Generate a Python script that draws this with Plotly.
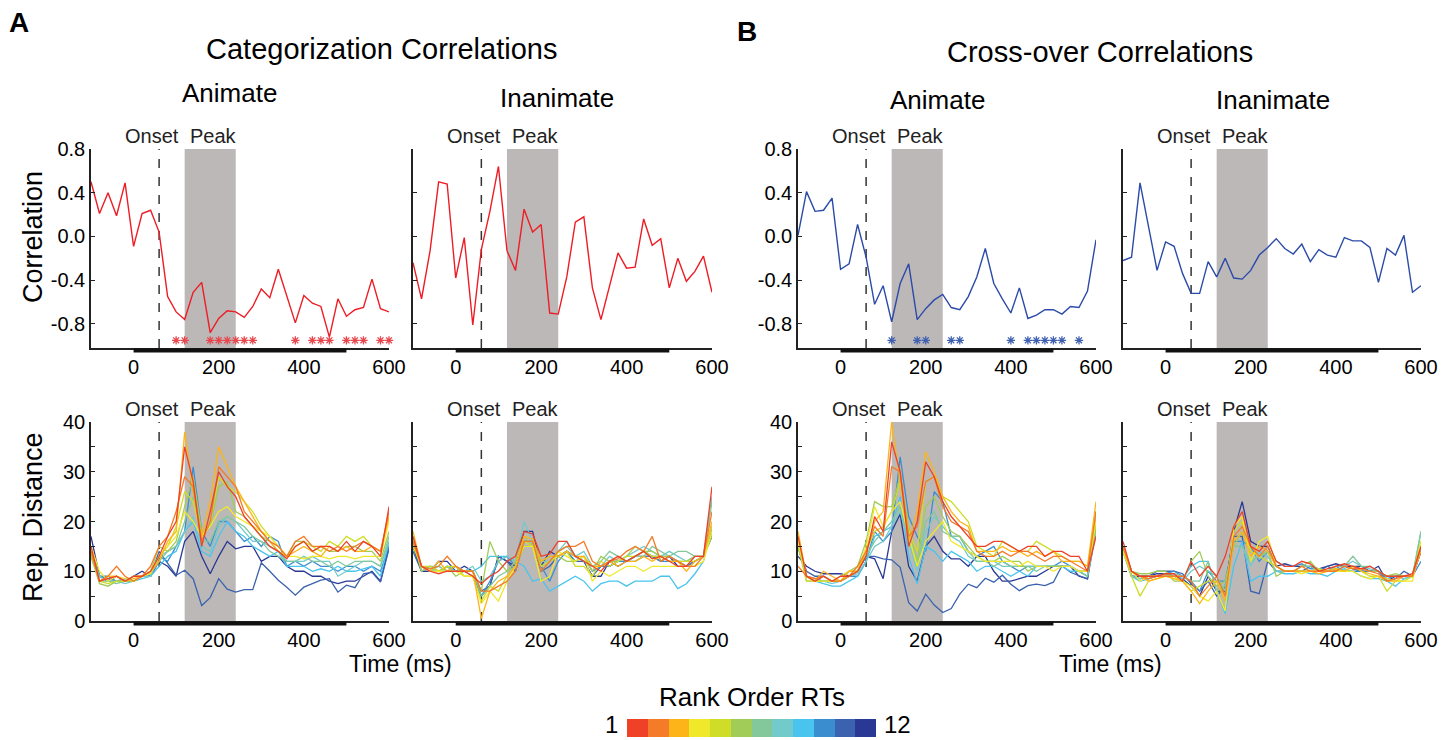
import plotly.graph_objects as go

# ---------------- data ----------------
time_ms = list(range(-100, 601, 20))

cat_anim_corr = [0.50, 0.21, 0.40, 0.19, 0.49, -0.09, 0.21, 0.24, 0.04, -0.55, -0.69, -0.76, -0.51, -0.42, -0.88, -0.75, -0.68, -0.69,
                 -0.74, -0.64, -0.48, -0.56, -0.30, -0.54, -0.79, -0.54, -0.61, -0.64, -0.92, -0.57, -0.73, -0.67, -0.65, -0.39, -0.66, -0.69]
cat_inan_corr = [-0.24, -0.57, -0.13, 0.50, 0.48, -0.38, -0.01, -0.81, -0.12, 0.23, 0.64, -0.13, -0.31, 0.25, 0.04, 0.11, -0.70, -0.71,
                 -0.37, 0.13, 0.18, -0.47, -0.76, -0.46, -0.15, -0.29, -0.28, 0.16, -0.08, -0.02, -0.47, -0.20, -0.41, -0.32, -0.18, -0.51]
cross_anim_corr = [0.01, 0.41, 0.23, 0.24, 0.35, -0.30, -0.25, 0.11, -0.19, -0.62, -0.45, -0.78, -0.43, -0.25, -0.76, -0.66, -0.58, -0.53,
                   -0.65, -0.67, -0.55, -0.37, -0.11, -0.43, -0.57, -0.70, -0.47, -0.75, -0.72, -0.67, -0.67, -0.71, -0.64, -0.65, -0.50, -0.03]
cross_inan_corr = [-0.22, -0.19, 0.49, 0.10, -0.31, -0.05, -0.09, -0.34, -0.52, -0.52, -0.23, -0.37, -0.20, -0.38, -0.39, -0.31, -0.17, -0.10,
                   -0.02, -0.11, -0.16, -0.07, -0.23, -0.12, -0.17, -0.19, -0.01, -0.04, -0.04, -0.10, -0.42, -0.11, -0.17, 0.01, -0.51, -0.45]

cat_anim_sig = [100, 120, 180, 200, 220, 240, 260, 280, 380, 420, 440, 460, 500, 520, 540, 580, 600]
cross_anim_sig = [120, 180, 200, 260, 280, 400, 440, 460, 480, 500, 520, 560]
sig_marker_level = -0.95

onset_ms = 60
peak_window = [120, 240]
analysis_window = [0, 500]

rank_labels = list(range(1, 13))
rank_colors = ["#EE4128", "#F47B28", "#FDB418", "#F0E82A", "#CFDC28", "#A2CC58",
               "#82C89A", "#72CACA", "#48C4EE", "#3A8ED0", "#3A62AE", "#283894"]

# Representational distance, one row per RT rank (1 = fastest ... 12 = slowest)
cat_anim_dist = [
    [15, 8, 8.5, 9, 8, 9, 9, 10, 13, 17, 20, 35, 28, 15, 22, 30, 27, 25, 21, 19, 17, 15, 14, 12.5, 15, 16, 14, 15, 15, 14, 16, 14, 16, 15, 13, 23],
    [14, 8, 9, 11, 9, 8, 9, 11, 15, 17, 22, 29, 27, 16, 20, 31, 29, 27, 22, 20, 18, 16, 15, 13, 16, 17, 15, 15, 14, 15, 14, 15, 16, 15, 14, 22],
    [14, 8, 9, 9, 8, 8.5, 9, 10, 12, 16, 18, 38, 26, 17, 24, 35, 31, 27, 24, 21, 18, 16, 14, 13, 14, 15, 14, 13, 15, 14, 15, 14, 14, 15, 14, 21],
    [15, 10, 8, 9, 8.5, 8, 9, 9.5, 13, 15, 17, 22, 20, 17, 19, 22, 23, 21, 20, 19, 18, 17, 15, 13, 13, 12.5, 13, 13, 12.5, 13, 13, 12.5, 13, 13, 13, 20],
    [14, 8, 7.5, 8, 8, 9, 9, 10, 13, 15, 19, 26, 24, 17, 20, 29, 27, 26, 24, 22, 19, 17, 15, 13, 15, 16, 15, 14, 16, 15, 17, 16, 17, 15, 14, 21],
    [13, 7.5, 7, 8, 8, 8, 9, 10, 15, 14, 16, 23, 29, 18, 19, 27, 28, 22, 21, 19, 17, 16, 14, 13, 16, 16, 14, 15, 14, 14, 15, 15, 14, 14, 12, 18],
    [13, 8, 8, 7.5, 8, 8, 9, 9.5, 12, 14, 15, 20, 25, 16, 16, 20, 21, 20, 19, 17, 16, 14, 13, 12, 12, 13, 12, 12, 11, 12, 11, 12, 12, 12, 11, 17],
    [14, 9, 8, 8, 7.5, 8, 9, 9, 13, 14, 15, 18, 21, 15, 14, 19, 21, 20, 18, 16, 16, 15, 14, 12, 12, 12, 13, 12, 12, 9, 10, 11, 12, 12, 11, 16],
    [13, 9, 8, 8, 8, 8, 8.5, 9, 11, 13, 14, 18, 20, 14, 13, 17, 20, 18, 17, 15, 14, 13, 14, 11, 11, 11, 10, 10.5, 10, 11, 10, 10, 10.5, 11, 9, 16],
    [14, 9, 9, 8, 8, 8, 9, 9.5, 13, 12, 15, 18, 31, 18, 15, 20, 20, 18, 16, 17, 15, 17, 16, 11, 12, 11, 12, 11, 11, 10, 11, 11, 10, 11, 10, 15],
    [14, 9, 8.5, 8, 8.5, 8, 9, 9, 14, 11.5, 9.2, 10.2, 8.5, 3.1, 4.7, 8.5, 6.4, 5.8, 6.3, 6.3, 11.7, 10, 8.2, 6.8, 5.2, 6.8, 7.5, 8.2, 8.5, 5.8, 7.2, 6.7, 9.5, 9.8, 7.8, 14.5],
    [17, 9, 8, 9, 8, 9, 10, 9, 12, 11, 9, 16, 18, 13, 9.5, 13, 16, 14.5, 15, 15, 12, 13, 13, 11, 10, 10, 9, 9, 8, 7.5, 8, 8, 9, 10, 8, 15],
]
cat_inan_dist = [
    [17, 11, 10, 9.5, 10, 10, 10, 9, 7.5, 9, 10, 12, 13, 18, 17.5, 13, 13.5, 16, 16, 13, 12, 11, 10, 12, 13, 12, 13, 14, 12.5, 13, 12, 11, 11, 13, 13, 27],
    [16, 11, 10.5, 11, 13, 11, 10, 10, 6, 6, 7, 8, 10, 16, 16, 10, 12, 14, 15, 15, 16, 12, 11, 12, 12.5, 14, 15, 14, 17, 12, 13, 12, 11, 11, 13, 22],
    [18, 11, 10, 12, 10, 11, 10, 10, 0.5, 6, 8, 9, 11, 17, 16.5, 12, 13, 13, 14, 13, 13, 11, 11, 12, 11, 12, 12, 13, 12, 13, 12, 12, 10, 12, 13, 20],
    [16, 11, 10, 10, 10, 10, 9, 9, 3.5, 6, 4, 8, 11, 15, 15, 8, 9, 14, 13, 12, 13, 8, 10, 9, 10, 11, 11, 10, 11, 11, 11, 11, 11, 11, 12, 18],
    [15, 11, 11, 10, 11, 11, 9, 9, 4, 7, 6, 9, 11, 16, 15, 11, 12, 13, 14, 11, 11, 9, 12, 11, 12, 13, 13, 14, 13, 13, 12, 12, 12, 12, 13, 19],
    [16, 10, 11, 10, 11, 9, 10, 10, 6, 16, 12, 10, 12, 17, 15, 12, 13, 13, 12, 12, 13, 10, 13, 12, 12, 13, 15, 14, 14, 13, 13, 12, 12, 13, 13, 17],
    [16, 11, 10, 11, 10, 10, 10, 10, 5, 7, 9, 10, 11, 16, 16, 11, 12, 14, 15, 13, 12, 11, 12, 14, 13, 12, 13, 13, 15, 14, 13, 14, 14, 13, 13, 24],
    [17, 10, 11, 11, 10, 10, 10, 11, 8, 9, 12, 13, 12, 20, 16, 12, 12, 14, 16, 13, 14, 11, 11, 13, 12, 13, 14, 15, 14, 13, 14, 13, 12, 13, 13, 25],
    [16, 11, 10, 10, 11, 10, 10, 10, 11, 13, 13, 13, 12, 11, 8, 8.5, 6, 7, 8, 9, 8, 6, 7.5, 8, 8, 7, 8, 8, 8, 9, 9, 6.5, 7.5, 9.5, 12, 19],
    [15, 11, 10, 10, 10, 11, 10, 9, 5, 8, 12, 13, 11, 15, 15, 11, 8, 12, 14, 12, 13, 10, 11, 11, 12, 12, 12, 13, 13, 12, 12, 12, 11, 12, 13, 19],
    [14, 10, 11, 10, 11, 10, 10, 10, 6, 7, 13, 12, 10, 16, 16, 10, 11, 13, 14, 12, 12, 9, 11, 11, 12, 12, 13, 14, 13, 13, 13, 12, 11, 12, 13, 18],
    [15, 10, 10, 12, 12, 10, 11, 10, 5, 7, 13, 12, 11, 18, 18, 11, 14, 13, 14, 13, 12, 9, 9, 12, 11, 12, 13, 13, 13, 12, 13, 11, 11, 12, 13, 17],
]
cross_anim_dist = [
    [17, 9, 8, 9, 8, 9, 9, 10, 13, 21, 18, 36, 30, 15, 20, 32, 29, 24, 21, 19, 17, 15, 15, 16, 16, 15, 14, 15, 15, 13, 14, 14, 13, 13, 10, 17],
    [11, 9, 8.5, 9, 8, 8, 9, 11, 14, 19, 17, 31, 30, 17, 19, 28, 29, 23, 20, 19, 18, 14, 13, 13, 14, 13, 14, 14, 13, 12, 13, 13, 12, 11, 10, 22],
    [18, 9, 8, 10, 9, 8, 10, 10, 14, 20, 22, 40, 28, 16, 22, 34, 30, 25, 22, 20, 19, 14, 14, 14, 15, 14, 14, 13, 14, 13, 14, 12, 12, 12, 11, 24],
    [16, 9, 8, 8, 8, 8, 9, 10, 15, 23, 19, 22, 24, 17, 11, 16, 18, 20, 16, 15, 14, 13, 12, 12, 12, 12, 11, 12, 11, 11, 10, 11, 11, 10, 10, 20],
    [16, 8, 8, 9, 8, 9, 10, 10, 14, 18, 19, 22, 28, 18, 14, 28, 29, 25, 24, 22, 20, 15, 14, 13, 16, 15, 14, 14, 16, 15, 14, 13, 12, 12, 11, 21],
    [15, 8, 8, 8, 8, 8, 10, 11, 16, 24, 23, 23, 29, 19, 12, 23, 25, 21, 18, 17, 15, 13, 12, 12, 13, 12, 12, 10, 11, 11, 11, 11, 11, 10, 10, 19],
    [16, 9, 8, 8, 8, 8, 9, 10, 13, 16, 18, 20, 23, 17, 11, 20, 22, 18, 17, 17, 14, 12, 12, 11, 12, 11, 11, 11, 10, 11, 11, 11, 11, 10, 9, 18],
    [15, 9, 8, 8, 7.5, 8, 9, 9.5, 12, 15, 16, 19, 22, 16, 10, 18, 21, 19, 17, 16, 13, 12, 12, 12, 11, 11, 11, 11, 11, 11, 11, 11, 11, 10, 10, 19],
    [15, 9, 8, 7.5, 7, 7, 8, 9, 12, 17, 18, 19, 25, 13, 7.5, 15, 14, 12, 14, 13, 12, 10, 11, 11, 10, 9, 10, 9, 11, 11, 11, 11, 10, 10, 9, 18],
    [15, 9, 8.5, 8, 8, 8, 9, 9, 12, 18, 16, 18, 33, 21, 17, 14, 26, 24, 17, 17, 14, 13, 14, 15, 12, 11, 10, 11, 11, 11, 11, 12, 11, 10, 9, 22],
    [15, 10, 9, 9, 8, 8, 9, 10, 13, 13, 12.5, 12.3, 10.8, 3.7, 2, 5.4, 3.2, 1.7, 2.5, 5.4, 7.4, 6.7, 8.6, 7.8, 9.2, 7.4, 6.1, 7.1, 7.4, 7.1, 7.8, 11.1, 9.8, 9.1, 8.4, 18.2],
    [13, 11, 10, 9.5, 9.5, 9.5, 9, 10, 13, 12.5, 8.5, 18, 21.5, 11, 8, 15, 17, 14, 12.5, 12.5, 11, 13, 13, 10, 8, 8, 8.5, 9, 9, 10, 11, 11, 11, 9, 8.5, 20],
]
cross_inan_dist = [
    [16, 10, 9, 9, 9, 9.5, 9.5, 8, 12, 9, 11, 9, 13, 19, 22, 15, 14, 16, 12, 11, 11, 12, 11.5, 10, 10.5, 11, 11.5, 11, 10.5, 11, 10, 9, 9, 9, 9.5, 15],
    [15, 10, 9, 8.5, 9, 9, 9, 9, 8, 5, 7, 9, 5, 17, 19, 15, 13, 15, 11, 10, 10, 11, 10, 10, 10, 10, 11, 10.5, 10.5, 10, 9.5, 8, 8.5, 9, 9, 15],
    [15, 10, 9, 8, 8.5, 9, 8.5, 8, 6, 3.5, 6, 8, 4, 16, 18, 13, 15, 14, 11, 10, 10, 10, 10, 9.5, 10, 10.5, 10, 11, 10, 9.5, 9, 8, 8, 9, 9, 14],
    [14, 10, 8, 9, 9, 9, 8.5, 8, 7, 5, 4, 6, 2, 19, 21, 12, 16, 17, 11, 10, 10, 9.5, 10, 10, 10, 10, 10, 10, 9, 8.5, 9, 8.5, 8, 8, 8, 16],
    [14, 9, 5, 8, 8.5, 9, 9, 8, 6, 7, 8, 8, 5, 18, 20, 14, 13, 12, 11, 10, 10, 10, 10, 10.5, 10, 10.5, 10, 11, 10, 9, 9, 6, 8, 8, 9, 16],
    [15, 10, 9.5, 9.5, 10, 10, 8, 8, 12, 14, 9, 7, 8, 15, 18, 14, 13, 14, 9, 10, 10, 11, 12, 10, 10, 10.5, 10, 11, 10.5, 10, 10, 9, 9.5, 9, 9, 16],
    [15, 10, 9, 9, 9, 9.5, 9.5, 9, 8, 8, 12, 6, 7, 15, 15, 12, 13, 14, 11, 10, 10, 11, 11, 10, 10, 11, 11, 13, 11, 11, 10, 9, 9, 9, 9, 18],
    [15, 9, 8.5, 9, 9, 9, 9, 8, 10, 11, 10, 9, 6, 15, 15, 11, 14, 13, 10, 10, 10, 10, 10, 10.5, 10, 11, 11, 12, 11, 10.5, 10, 9, 9, 8.5, 9, 18],
    [14, 9, 8, 8.5, 9, 9, 9, 8.5, 11, 12, 12, 6, 1.5, 11, 16, 8, 9, 9, 10, 9.5, 9.5, 10, 9.5, 9.5, 9, 10, 10.5, 10, 9, 8.5, 8.5, 8, 7, 8.5, 9, 15],
    [14, 9, 8.5, 8.5, 9, 9.5, 10, 9, 8, 6, 10, 8, 8, 16, 16, 15, 12, 14, 12, 11, 11, 11.5, 10.5, 10.5, 10, 11, 10, 10, 10, 10, 10, 8.5, 9, 9, 9, 12],
    [15, 10, 9, 9, 10, 10, 10, 9.5, 7.5, 6, 8, 5, 7, 17, 17, 6, 5.5, 12, 10, 10, 10, 10, 11, 10, 11, 10, 11, 10.5, 10, 10, 10, 8, 8.5, 10, 9, 14],
    [15, 9, 9, 9, 9.5, 9.5, 9, 8.5, 7, 5, 9, 6, 6, 18, 24, 16, 15, 15, 11, 11.5, 11, 11, 11, 10.5, 11, 11.5, 11, 11, 11, 10, 11, 8, 9, 9, 9, 14],
]

x_tickvals = [0, 200, 400, 600]
corr_tickvals = [0.8, 0.4, 0.0, -0.4, -0.8]
corr_ticktext = ["0.8", "0.4", "0.0", "-0.4", "-0.8"]
dist_tickvals = [0, 5, 10, 15, 20, 25, 30, 35, 40]
dist_ticktext = ["0", "", "10", "", "20", "", "30", "", "40"]

# ---------------- layout geometry (pixels) ----------------
W, H = 1455, 740
FONT = "Liberation Sans, Arial, Helvetica, sans-serif"
col_px = [(91, 389), (413, 712), (798, 1096), (1123, 1421)]
row_px = [(149, 348), (422, 621)]


def px_x(p):
    return p / W


def px_y(p):
    return 1 - p / H


fig = go.Figure()
layout = dict(
    width=W, height=H, autosize=False,
    margin=dict(l=0, r=0, t=0, b=0, pad=0, autoexpand=False),
    paper_bgcolor="white", plot_bgcolor="white",
    showlegend=False, font=dict(family=FONT, color="black"),
)
shapes = []
annotations = []

corr_panels = [
    (cat_anim_corr, "#EE1C25", cat_anim_sig, "#E8474E"),
    (cat_inan_corr, "#EE1C25", None, None),
    (cross_anim_corr, "#2C4BA8", cross_anim_sig, "#3F5FB0"),
    (cross_inan_corr, "#2C4BA8", None, None),
]
dist_panels = [cat_anim_dist, cat_inan_dist, cross_anim_dist, cross_inan_dist]

for k in range(1, 9):
    row = (k - 1) // 4
    col = (k - 1) % 4
    xa = "x" if k == 1 else f"x{k}"
    ya = "y" if k == 1 else f"y{k}"
    xkey = "xaxis" if k == 1 else f"xaxis{k}"
    ykey = "yaxis" if k == 1 else f"yaxis{k}"
    x0, x1 = col_px[col]
    yt, yb = row_px[row]
    layout[xkey] = dict(
        domain=[px_x(x0), px_x(x1)], anchor=ya, range=[-100, 600],
        tickvals=x_tickvals, ticks="", showgrid=False, zeroline=False, automargin=False,
        showline=True, linecolor="#222", linewidth=1.5,
        tickfont=dict(size=20, family=FONT, color="black"),
    )
    if row == 0:
        yvals, ytext, yrange = corr_tickvals, corr_ticktext, [-1.02, 0.8]
    else:
        yvals, ytext, yrange = dist_tickvals, dist_ticktext, [0, 40]
    layout[ykey] = dict(
        domain=[px_y(yb), px_y(yt)], anchor=xa, range=yrange, automargin=False,
        tickvals=yvals, ticktext=ytext, ticks="inside", ticklen=4, tickwidth=1.2,
        tickcolor="#222", showticklabels=(col in (0, 2)),
        showgrid=False, zeroline=False, showline=True, linecolor="#222", linewidth=1.5,
        tickfont=dict(size=20, family=FONT, color="black"),
    )

    # peak window, onset line, analysis window bar
    shapes.append(dict(type="rect", xref=xa, yref=f"{ya} domain",
                       x0=peak_window[0], x1=peak_window[1], y0=0, y1=1,
                       fillcolor="#BCB8B8", line=dict(width=0), layer="below"))
    shapes.append(dict(type="line", xref=xa, yref=f"{ya} domain",
                       x0=onset_ms, x1=onset_ms, y0=0, y1=1,
                       line=dict(color="#333", width=1.5, dash="dash"), layer="below"))
    shapes.append(dict(type="line", xref=xa, yref=f"{ya} domain",
                       x0=analysis_window[0], x1=analysis_window[1], y0=-0.012, y1=-0.012,
                       line=dict(color="#111", width=4), layer="above"))

    annotations.append(dict(text="Onset", xref=xa, yref=f"{ya} domain", x=43, y=1.0,
                            xanchor="center", yanchor="bottom", showarrow=False,
                            font=dict(size=20, family=FONT, color="#222")))
    annotations.append(dict(text="Peak", xref=xa, yref=f"{ya} domain", x=187, y=1.0,
                            xanchor="center", yanchor="bottom", showarrow=False,
                            font=dict(size=20, family=FONT, color="#222")))

    if row == 0:
        vals, color, sig, sigcolor = corr_panels[col]
        fig.add_trace(go.Scatter(x=time_ms, y=vals, mode="lines", xaxis=xa, yaxis=ya,
                                 line=dict(color=color, width=1.4)))
        if sig:
            fig.add_trace(go.Scatter(x=sig, y=[sig_marker_level] * len(sig), mode="markers",
                                     xaxis=xa, yaxis=ya, cliponaxis=False,
                                     marker=dict(symbol="asterisk-open", size=7, color=sigcolor,
                                                 line=dict(color=sigcolor, width=1.3))))
    else:
        series = dist_panels[col]
        for r in reversed(range(12)):
            fig.add_trace(go.Scatter(x=time_ms, y=series[r], mode="lines", xaxis=xa, yaxis=ya,
                                     line=dict(color=rank_colors[r], width=1.3)))

# rank colour bar (heatmap on its own axes)
cb_scale = []
for i, c in enumerate(rank_colors):
    cb_scale.append([i / 12, c])
    cb_scale.append([(i + 1) / 12, c])
fig.add_trace(go.Heatmap(z=[rank_labels], x=rank_labels, y=[0], xaxis="x9", yaxis="y9",
                         colorscale=cb_scale, zmin=0.5, zmax=12.5, showscale=False,
                         hoverinfo="skip"))
layout["xaxis9"] = dict(domain=[px_x(627), px_x(876)], anchor="y9", range=[0.5, 12.5], visible=False)
layout["yaxis9"] = dict(domain=[px_y(737), px_y(719)], anchor="x9", range=[-0.5, 0.5], visible=False)


def text_at(txt, x, y, size, bold=False, angle=0):
    annotations.append(dict(text=f"<b>{txt}</b>" if bold else txt, xref="paper", yref="paper",
                            x=px_x(x), y=px_y(y), xanchor="center", yanchor="middle",
                            showarrow=False, textangle=angle, borderpad=0,
                            font=dict(size=size, family=FONT, color="black")))


text_at("A", 19, 22, 28, bold=True)
text_at("B", 747, 31, 28, bold=True)
text_at("Categorization Correlations", 381, 49, 29)
text_at("Cross-over Correlations", 1100, 52, 29)
text_at("Animate", 229, 93, 26)
text_at("Inanimate", 557, 98, 26)
text_at("Animate", 937, 100, 26)
text_at("Inanimate", 1273, 100, 26)
text_at("Correlation", 33, 237, 27, angle=-90)
text_at("Rep. Distance", 33, 517, 27, angle=-90)
text_at("Time (ms)", 400, 664, 23)
text_at("Time (ms)", 1110, 664, 23)
text_at("Rank Order RTs", 752, 697, 26)
text_at("1", 611, 724, 24)
text_at("12", 897, 724, 24)

layout["shapes"] = shapes
layout["annotations"] = annotations
fig.update_layout(**layout)
fig.write_html(
    "out.html",
    config={"displayModeBar": False},
    post_script="document.body.style.margin='0';document.body.style.overflow='hidden';",
)
